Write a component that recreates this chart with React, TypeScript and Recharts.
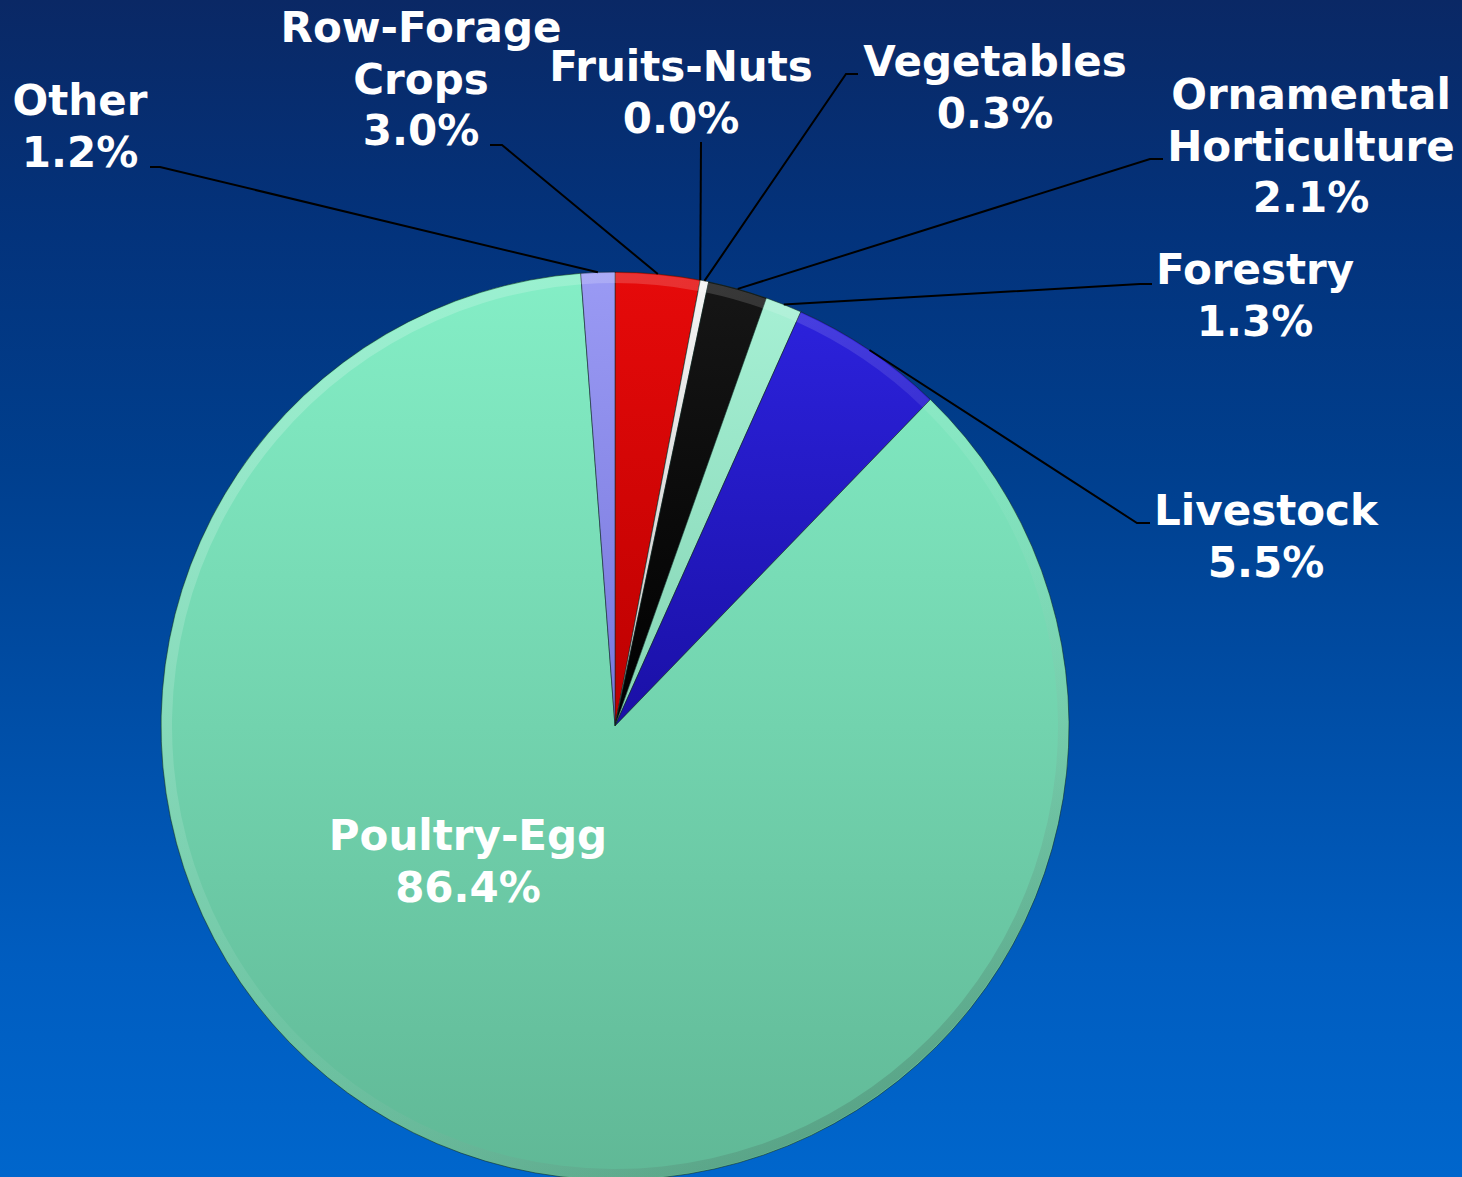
import React from "react";
import { PieChart, Pie, Cell } from "recharts";

// clockwise from 12 o'clock
const categories = [
  "Row-Forage Crops",
  "Fruits-Nuts",
  "Vegetables",
  "Ornamental Horticulture",
  "Forestry",
  "Livestock",
  "Poultry-Egg",
  "Other",
];
const shares = [3.0, 0.0, 0.3, 2.1, 1.3, 5.5, 86.4, 1.2];
const labelLines = [
  ["Row-Forage", "Crops", "3.0%"],
  ["Fruits-Nuts", "0.0%"],
  ["Vegetables", "0.3%"],
  ["Ornamental", "Horticulture", "2.1%"],
  ["Forestry", "1.3%"],
  ["Livestock", "5.5%"],
  ["Poultry-Egg", "86.4%"],
  ["Other", "1.2%"],
];

const gradients = [
  ["#e60a0a", "#bc0000"],
  ["#f4f4f4", "#c8c8c8"],
  ["#f4f4f4", "#c8c8c8"],
  ["#161616", "#000000"],
  ["#a6f0d4", "#84d4b4"],
  ["#2c22dc", "#1a10a6"],
  ["#84eec6", "#60b896"],
  ["#9a9af4", "#7878dc"],
];

// label placement: text centre + first line centre y, elbow and stub end of leader
const labelLayout = [
  { x: 421, y: 27, elbow: [502, 145], end: [490, 145] },
  { x: 681, y: 66, elbow: [701, 142], end: [701, 142] },
  { x: 995, y: 61, elbow: [846, 74], end: [858, 74] },
  { x: 1311, y: 94, elbow: [1150, 159], end: [1163, 159] },
  { x: 1255, y: 269, elbow: [1140, 284], end: [1152, 284] },
  { x: 1266, y: 510, elbow: [1137, 523], end: [1150, 523] },
  { x: 468, y: 835, elbow: null, end: null },
  { x: 80, y: 100, elbow: [160, 167], end: [150, 167] },
];

const data = categories.map((name, i) => ({ name, value: shares[i] }));

const RAD = Math.PI / 180;

function renderLabel(props: any) {
  const { cx, cy, midAngle, outerRadius, index } = props;
  const lay = labelLayout[index];
  const lines = labelLines[index];
  const px = cx + outerRadius * Math.cos(-midAngle * RAD);
  const py = cy + outerRadius * Math.sin(-midAngle * RAD);
  return (
    <g key={`lbl-${index}`}>
      {lay.elbow && (
        <polyline
          points={`${px},${py} ${lay.elbow[0]},${lay.elbow[1]} ${lay.end[0]},${lay.end[1]}`}
          fill="none"
          stroke="#000"
          strokeWidth={2}
        />
      )}
      <text
        x={lay.x}
        textAnchor="middle"
        fill="#ffffff"
        fontFamily="'DejaVu Sans', Verdana, sans-serif"
        fontWeight="bold"
        fontSize={42}
      >
        {lines.map((t, k) => (
          <tspan key={k} x={lay.x} y={lay.y + 15 + k * 51.5}>
            {t}
          </tspan>
        ))}
      </text>
    </g>
  );
}

export default function App() {
  return (
    <div
      style={{
        position: "fixed",
        left: 0,
        top: 0,
        width: 1462,
        height: 1177,
        background:
          "linear-gradient(180deg, #0a2865 0%, #03337c 20%, #003f8e 40%, #004fa8 62%, #005dc0 82%, #0066cc 100%)",
      }}
    >
      <PieChart width={1462} height={1177} margin={{ top: 0, right: 0, bottom: 0, left: 0 }}>
        <defs>
          {gradients.map((g, i) => (
            <linearGradient key={i} id={`slice-${i}`} x1="0" y1="0" x2="0" y2="1">
              <stop offset="0%" stopColor={g[0]} />
              <stop offset="100%" stopColor={g[1]} />
            </linearGradient>
          ))}
          <linearGradient id="rim" gradientUnits="userSpaceOnUse" x1="300" y1="300" x2="930" y2="1150">
            <stop offset="0%" stopColor="#ffffff" stopOpacity={0.22} />
            <stop offset="55%" stopColor="#ffffff" stopOpacity={0.05} />
            <stop offset="100%" stopColor="#000000" stopOpacity={0.18} />
          </linearGradient>
        </defs>
        <Pie
          data={data}
          dataKey="value"
          nameKey="name"
          cx={615}
          cy={726}
          outerRadius={454}
          startAngle={90}
          endAngle={-270}
          stroke="rgba(20,40,30,0.55)"
          strokeWidth={1}
          label={renderLabel}
          labelLine={false}
          isAnimationActive={false}
        >
          {data.map((_, i) => (
            <Cell key={i} fill={`url(#slice-${i})`} />
          ))}
        </Pie>
        <Pie
          data={data}
          dataKey="value"
          nameKey="name"
          cx={615}
          cy={726}
          innerRadius={443}
          outerRadius={453}
          startAngle={90}
          endAngle={-270}
          stroke="none"
          isAnimationActive={false}
        >
          {data.map((_, i) => (
            <Cell key={i} fill="url(#rim)" />
          ))}
        </Pie>
      </PieChart>
    </div>
  );
}
